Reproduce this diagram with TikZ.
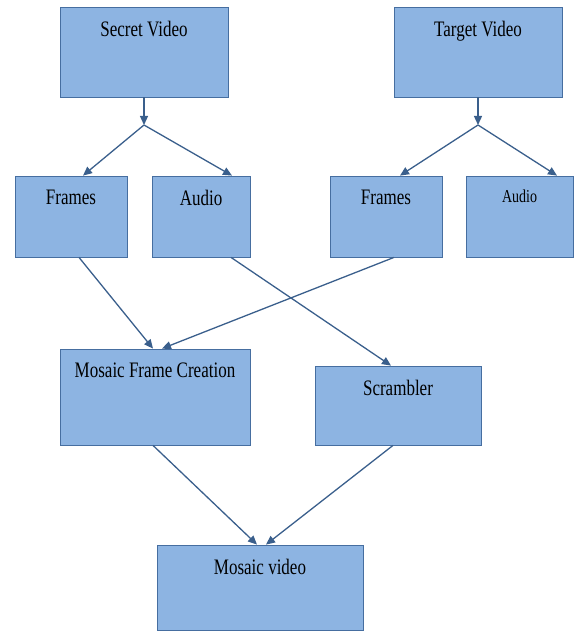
\documentclass[tikz,border=0pt]{standalone}
\usepackage{fontspec}
\setmainfont{Liberation Serif}
\usetikzlibrary{arrows.meta}

\definecolor{boxfill}{RGB}{141,180,226}
\definecolor{boxline}{RGB}{70,110,160}
\definecolor{arrowcol}{RGB}{58,95,140}

\begin{document}
\begin{tikzpicture}[x=1pt, y=-1pt,
    block/.style={draw=boxline, fill=boxfill, line width=0.8pt, inner sep=0pt},
    boxtext/.style={anchor=north, yshift=-14pt, inner sep=0pt, yscale=1.3, transform shape, font=\fontsize{17}{19}\selectfont},
    smalltext/.style={boxtext, font=\fontsize{14}{16}\selectfont},
    flow/.style={draw=arrowcol, line width=1.3pt, -{Triangle[length=9pt, width=8pt]}}]
    \useasboundingbox (0,0) rectangle (576,631);

    %Videos
    \node[block, minimum width=168pt, minimum height=90pt, label={[boxtext]north:Secret Video}] (svideo) at (144,52) {};
    \node[block, minimum width=168pt, minimum height=90pt, label={[boxtext]north:Target Video}] (tvideo) at (478,52) {};

    %Frames et audio
    \node[block, minimum width=112pt, minimum height=81pt, label={[boxtext]north:Frames}] (sframes) at (71,216.5) {};
    \node[block, minimum width=98pt, minimum height=81pt, label={[boxtext]north:Audio}] (saudio) at (201,216.5) {};
    \node[block, minimum width=112pt, minimum height=81pt, label={[boxtext]north:Frames}] (tframes) at (386,216.5) {};
    \node[block, minimum width=107pt, minimum height=81pt, label={[smalltext]north:Audio}] (taudio) at (519.5,216.5) {};

    %Traitement
    \node[block, minimum width=190pt, minimum height=96pt, label={[boxtext]north:Mosaic Frame Creation}] (mfc) at (155,397) {};
    \node[block, minimum width=166pt, minimum height=79pt, label={[boxtext]north:Scrambler}] (scram) at (398,405.5) {};
    \node[block, minimum width=206pt, minimum height=85pt, label={[boxtext]north:Mosaic video}] (mvideo) at (260,587.5) {};

    %Separation
    \coordinate (sj) at (144,125);
    \coordinate (tj) at (478,125);
    \draw[flow] (svideo.south) -- (sj);
    \draw[flow] (sj) -- ([xshift=12pt]sframes.north);
    \draw[flow] (sj) -- ([xshift=31pt]saudio.north);
    \draw[flow] (tvideo.south) -- (tj);
    \draw[flow] (tj) -- ([xshift=14pt]tframes.north);
    \draw[flow] (tj) -- ([xshift=37.5pt]taudio.north);

    %Croisement
    \draw[flow] ([xshift=8pt]sframes.south) -- ([xshift=-2pt]mfc.north);
    \draw[flow] ([xshift=8pt]tframes.south) -- ([xshift=7pt]mfc.north);
    \draw[flow] ([xshift=30pt]saudio.south) -- ([xshift=-7pt]scram.north);

    %Sortie
    \draw[flow] ([xshift=-2pt]mfc.south) -- ([xshift=-3pt]mvideo.north);
    \draw[flow] ([xshift=-5pt]scram.south) -- ([xshift=6pt]mvideo.north);
\end{tikzpicture}
\end{document}
